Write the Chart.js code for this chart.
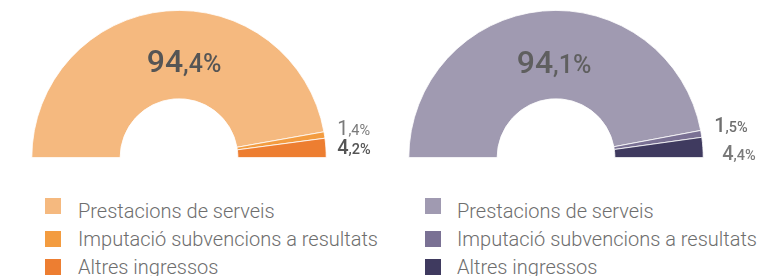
<!DOCTYPE html>
<html>
<head>
<meta charset="utf-8">
<script src="https://cdn.jsdelivr.net/npm/chart.js@4/dist/chart.umd.min.js"></script>
<style>
  html, body { margin: 0; padding: 0; background: #fff; overflow: hidden; }
  #wrap { position: relative; width: 761px; height: 276px; overflow: hidden; font-family: Roboto, sans-serif; }
  canvas { position: absolute; top: 0; }
  .legend { position: absolute; top: 197px; font-family: Roboto, sans-serif; font-weight: 300; font-size: 20px; line-height: 28px; color: #6e6e6e; }
  .legend .row { position: relative; height: 28px; white-space: nowrap; }
  .legend .sw { position: absolute; width: 16px; height: 16px; top: 6px; }
  .legend .tx { position: absolute; top: 0; }
</style>
</head>
<body>
<div id="wrap">
  <canvas id="c1" width="380" height="172" style="left:0px"></canvas>
  <canvas id="c2" width="381" height="172" style="left:380px"></canvas>
  <div class="legend" id="lg1" style="left:45px"></div>
  <div class="legend" id="lg2" style="left:425px"></div>
</div>
<script>
const categories = ['Prestacions de serveis', 'Imputació subvencions a resultats', 'Altres ingressos'];
const valuesLeft = [94.4, 1.4, 4.2];
const valuesRight = [94.1, 1.5, 4.4];
const colorsLeft = ['#F5B97F', '#F39C40', '#ED7E31'];
const colorsRight = ['#A09AB1', '#7A7194', '#3F3A5F'];

function splitVal(v) {
  const s = v.toFixed(1).split('.');
  return [s[0], ',' + s[1] + '%'];
}

function drawParts(ctx, parts, x, y, align) {
  let total = 0;
  parts.forEach(p => { ctx.font = p.font; total += ctx.measureText(p.text).width; });
  let cx = align === 'center' ? x - total / 2 : x;
  ctx.textBaseline = 'alphabetic';
  ctx.textAlign = 'left';
  parts.forEach(p => {
    ctx.font = p.font;
    ctx.fillStyle = p.color;
    ctx.fillText(p.text, cx, y);
    cx += ctx.measureText(p.text).width;
  });
}

const labelPlugin = {
  id: 'labelPlugin',
  afterDraw(chart) {
    const o = chart.options.plugins.labelPlugin;
    const ctx = chart.ctx;
    const arc = chart.getDatasetMeta(0).data[0];
    const vals = chart.data.datasets[0].data;
    const cx = arc.x, cy = arc.y, R = arc.outerRadius;
    ctx.save();
    const m = splitVal(vals[0]);
    drawParts(ctx, [
      {text: m[0], font: '500 32px Roboto', color: o.mainColor},
      {text: m[1], font: '500 25px Roboto', color: o.mainColor}
    ], cx + o.mainDx, cy + o.mainDy, 'center');
    for (let i = 1; i < vals.length; i++) {
      const s = splitVal(vals[i]);
      const p = o.small[i - 1];
      drawParts(ctx, [
        {text: s[0], font: p.weight + ' 20px Roboto', color: p.color},
        {text: s[1], font: p.weight + ' 14.5px Roboto', color: p.color}
      ], cx + R + p.dx, cy + p.dy, 'left');
    }
    ctx.restore();
  }
};

function makeChart(id, values, colors, pad, lab) {
  return new Chart(document.getElementById(id), {
    type: 'doughnut',
    data: {
      labels: categories,
      datasets: [{
        data: values,
        backgroundColor: colors,
        borderColor: '#ffffff',
        borderWidth: 0.8
      }]
    },
    options: {
      responsive: false,
      animation: false,
      rotation: -90,
      circumference: 180,
      cutout: '40%',
      layout: { padding: pad },
      plugins: {
        legend: { display: false },
        tooltip: { enabled: false },
        labelPlugin: lab
      }
    },
    plugins: [labelPlugin]
  });
}

makeChart('c1', valuesLeft, colorsLeft, {left: 31, right: 53, top: 10, bottom: 14}, {
  mainColor: '#555555', mainDx: 5, mainDy: -86,
  small: [{dx: 11, dy: -23, color: '#7a7a7a', weight: 400}, {dx: 11, dy: -4, color: '#555555', weight: 500}]
});
makeChart('c2', valuesRight, colorsRight, {left: 28, right: 57, top: 10, bottom: 14}, {
  mainColor: '#5f5f5f', mainDx: -2, mainDy: -85,
  small: [{dx: 11, dy: -26, color: '#6f6f6f', weight: 500}, {dx: 19, dy: 2, color: '#7a7a7a', weight: 500}]
});

function buildLegend(elId, colors) {
  const el = document.getElementById(elId);
  categories.forEach((c, i) => {
    const row = document.createElement('div');
    row.className = 'row';
    const sw = document.createElement('span');
    sw.className = 'sw';
    sw.style.background = colors[i];
    sw.style.left = '0px';
    if (i === 0) sw.style.top = '1px';
    const tx = document.createElement('span');
    tx.className = 'tx';
    tx.style.left = (elId === 'lg1' ? 33 : 32) + 'px';
    tx.textContent = c;
    row.appendChild(sw);
    row.appendChild(tx);
    el.appendChild(row);
  });
}
buildLegend('lg1', colorsLeft);
buildLegend('lg2', colorsRight);
</script>
</body>
</html>
